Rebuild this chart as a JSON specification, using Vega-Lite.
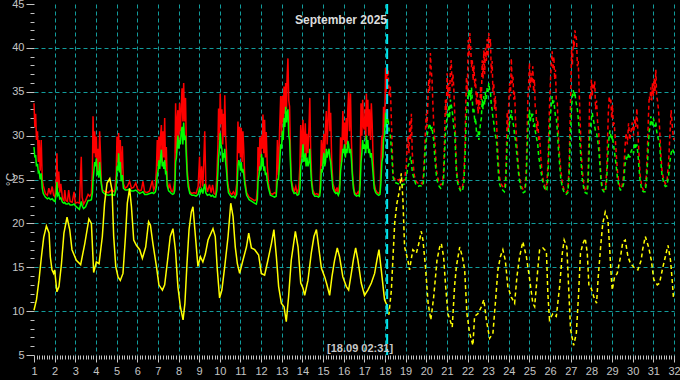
{
  "$schema": "https://vega.github.io/schema/vega-lite/v6.json",
  "width": 640,
  "height": 351,
  "autosize": {"type": "none"},
  "padding": {"left": 34, "top": 4, "right": 6, "bottom": 25},
  "background": "#000000",
  "config": {
    "view": {"stroke": null},
    "axis": {"labelFont": "Liberation Sans", "titleFont": "Liberation Sans"}
  },
  "title": {"text": "September 2025", "color": "#dcdcdc", "font": "Liberation Sans", "fontSize": 12, "fontWeight": "bold", "anchor": "middle", "frame": "group", "offset": -19, "dx": -13, "dy": 19, "baseline": "alphabetic"},
  "datasets": {
    "rg": [
      {"t":1.00,"r":33.7,"g":28.7},{"t":1.04,"r":31.0,"g":27.5},{"t":1.08,"r":32.5,"g":27.8},{"t":1.12,"r":29.5,"g":26.5},{"t":1.17,"r":30.5,"g":26.8},{"t":1.21,"r":27.0,"g":25.8},{"t":1.25,"r":29.5,"g":25.9},{"t":1.30,"r":26.0,"g":25.0},{"t":1.35,"r":29.5,"g":25.7},{"t":1.40,"r":25.0,"g":24.0},{"t":1.45,"r":24.3,"g":23.4},{"t":1.55,"r":23.4,"g":23.0},{"t":1.65,"r":23.2,"g":22.8},{"t":1.72,"r":24.0,"g":22.9},{"t":1.80,"r":23.3,"g":22.7},{"t":1.88,"r":24.2,"g":22.8},{"t":1.95,"r":23.2,"g":22.6},{"t":2.02,"r":23.0,"g":22.5},
      {"t":2.08,"r":25.0,"g":23.5},{"t":2.11,"r":28.0,"g":24.7},{"t":2.15,"r":24.0,"g":23.2},{"t":2.20,"r":25.9,"g":23.4},{"t":2.25,"r":23.5,"g":22.8},{"t":2.30,"r":24.5,"g":22.9},{"t":2.38,"r":22.8,"g":22.4},{"t":2.45,"r":22.6,"g":22.3},{"t":2.49,"r":23.8,"g":22.4},{"t":2.55,"r":22.6,"g":22.2},{"t":2.62,"r":22.5,"g":22.2},{"t":2.68,"r":23.8,"g":22.3},{"t":2.75,"r":22.5,"g":22.1},{"t":2.85,"r":22.4,"g":22.1},{"t":2.94,"r":23.6,"g":22.2},{"t":3.00,"r":22.3,"g":22.0},
      {"t":3.10,"r":22.4,"g":21.8},{"t":3.20,"r":22.3,"g":21.6},{"t":3.29,"r":27.6,"g":22.5},{"t":3.33,"r":23.0,"g":22.0},{"t":3.40,"r":22.2,"g":21.7},{"t":3.50,"r":22.6,"g":21.9},{"t":3.62,"r":23.3,"g":22.6},{"t":3.70,"r":23.1,"g":22.6},{"t":3.78,"r":23.4,"g":22.7},{"t":3.83,"r":26.0,"g":23.5},{"t":3.86,"r":32.2,"g":25.0},{"t":3.90,"r":28.0,"g":26.0},{"t":3.94,"r":30.5,"g":27.0},{"t":3.98,"r":27.5,"g":26.5},
      {"t":4.02,"r":29.9,"g":27.4},{"t":4.06,"r":25.8,"g":25.5},{"t":4.10,"r":28.5,"g":26.0},{"t":4.14,"r":26.0,"g":25.2},{"t":4.18,"r":30.5,"g":27.0},{"t":4.22,"r":28.0,"g":25.5},{"t":4.26,"r":24.8,"g":24.5},{"t":4.32,"r":23.8,"g":23.6},{"t":4.45,"r":23.6,"g":23.3},{"t":4.60,"r":23.5,"g":23.2},{"t":4.75,"r":23.8,"g":23.3},{"t":4.90,"r":23.6,"g":23.2},{"t":4.98,"r":25.5,"g":24.0},
      {"t":5.02,"r":29.9,"g":26.5},{"t":5.06,"r":27.0,"g":26.0},{"t":5.10,"r":30.3,"g":28.0},{"t":5.14,"r":26.5,"g":25.8},{"t":5.18,"r":29.5,"g":27.0},{"t":5.22,"r":25.5,"g":24.8},{"t":5.28,"r":28.8,"g":25.5},{"t":5.33,"r":24.5,"g":24.0},{"t":5.42,"r":24.0,"g":23.8},{"t":5.52,"r":24.2,"g":23.8},{"t":5.63,"r":24.8,"g":23.9},{"t":5.72,"r":24.0,"g":23.7},{"t":5.82,"r":24.1,"g":23.7},{"t":5.93,"r":24.6,"g":23.8},{"t":6.02,"r":23.9,"g":23.6},
      {"t":6.12,"r":23.7,"g":23.4},{"t":6.20,"r":23.8,"g":23.5},{"t":6.28,"r":24.8,"g":23.6},{"t":6.36,"r":23.6,"g":23.3},{"t":6.48,"r":23.5,"g":23.3},{"t":6.60,"r":23.7,"g":23.4},{"t":6.73,"r":24.9,"g":23.5},{"t":6.80,"r":23.8,"g":23.4},{"t":6.88,"r":24.3,"g":23.6},{"t":6.93,"r":26.2,"g":24.2},{"t":6.97,"r":29.5,"g":25.5},
      {"t":7.01,"r":26.5,"g":26.0},{"t":7.05,"r":29.9,"g":27.2},{"t":7.09,"r":27.0,"g":26.2},{"t":7.13,"r":30.0,"g":27.5},{"t":7.17,"r":31.2,"g":28.4},{"t":7.21,"r":26.9,"g":26.5},{"t":7.25,"r":30.5,"g":27.0},{"t":7.29,"r":27.5,"g":26.2},{"t":7.33,"r":32.0,"g":27.2},{"t":7.37,"r":26.5,"g":25.8},{"t":7.41,"r":28.7,"g":26.0},{"t":7.45,"r":24.9,"g":24.3},{"t":7.52,"r":24.0,"g":23.7},{"t":7.58,"r":24.4,"g":23.6},{"t":7.65,"r":23.7,"g":23.4},{"t":7.72,"r":23.6,"g":23.3},{"t":7.78,"r":24.2,"g":23.4},{"t":7.82,"r":25.0,"g":23.8},{"t":7.86,"r":33.7,"g":27.0},{"t":7.90,"r":28.0,"g":27.5},{"t":7.94,"r":32.0,"g":29.0},{"t":7.97,"r":32.9,"g":30.0},
      {"t":8.01,"r":29.0,"g":28.5},{"t":8.05,"r":33.7,"g":29.5},{"t":8.09,"r":30.5,"g":29.0},{"t":8.13,"r":33.0,"g":30.5},{"t":8.17,"r":35.4,"g":31.0},{"t":8.21,"r":31.6,"g":29.0},{"t":8.25,"r":36.0,"g":31.5},{"t":8.29,"r":31.6,"g":29.5},{"t":8.34,"r":34.3,"g":30.0},{"t":8.38,"r":28.7,"g":27.5},{"t":8.42,"r":26.2,"g":25.5},{"t":8.47,"r":24.8,"g":24.2},{"t":8.55,"r":23.6,"g":23.4},{"t":8.65,"r":23.4,"g":23.2},{"t":8.75,"r":23.5,"g":23.2},{"t":8.85,"r":23.4,"g":23.1},{"t":8.95,"r":24.2,"g":23.3},
      {"t":9.02,"r":27.6,"g":24.0},{"t":9.06,"r":24.0,"g":23.5},{"t":9.12,"r":26.5,"g":23.9},{"t":9.18,"r":24.2,"g":23.4},{"t":9.22,"r":26.8,"g":24.0},{"t":9.27,"r":30.5,"g":24.5},{"t":9.32,"r":24.5,"g":23.5},{"t":9.40,"r":23.6,"g":23.2},{"t":9.50,"r":24.4,"g":23.3},{"t":9.58,"r":23.5,"g":23.1},{"t":9.65,"r":24.4,"g":23.2},{"t":9.72,"r":23.4,"g":23.0},{"t":9.80,"r":23.3,"g":23.0},{"t":9.86,"r":25.5,"g":23.8},{"t":9.91,"r":29.0,"g":26.0},{"t":9.94,"r":33.1,"g":27.5},{"t":9.98,"r":29.5,"g":28.5},
      {"t":10.02,"r":34.8,"g":30.3},{"t":10.06,"r":31.3,"g":29.0},{"t":10.10,"r":33.0,"g":28.5},{"t":10.14,"r":29.0,"g":27.0},{"t":10.18,"r":32.5,"g":28.0},{"t":10.21,"r":30.0,"g":27.5},{"t":10.24,"r":34.6,"g":28.5},{"t":10.28,"r":30.0,"g":27.0},{"t":10.32,"r":28.4,"g":26.1},{"t":10.37,"r":25.0,"g":24.5},{"t":10.42,"r":24.1,"g":23.5},{"t":10.50,"r":23.5,"g":23.2},{"t":10.58,"r":23.3,"g":23.0},{"t":10.66,"r":23.6,"g":23.1},{"t":10.74,"r":23.2,"g":22.9},{"t":10.82,"r":24.5,"g":23.3},{"t":10.88,"r":31.6,"g":26.5},{"t":10.92,"r":28.0,"g":27.2},{"t":10.96,"r":31.0,"g":26.8},
      {"t":11.00,"r":27.5,"g":26.0},{"t":11.04,"r":30.9,"g":27.0},{"t":11.08,"r":27.0,"g":25.8},{"t":11.12,"r":30.5,"g":26.2},{"t":11.16,"r":28.4,"g":25.6},{"t":11.21,"r":25.0,"g":24.5},{"t":11.30,"r":23.5,"g":23.2},{"t":11.42,"r":23.0,"g":22.7},{"t":11.55,"r":22.8,"g":22.5},{"t":11.68,"r":22.6,"g":22.3},{"t":11.77,"r":22.7,"g":22.2},{"t":11.82,"r":24.0,"g":22.8},{"t":11.85,"r":28.7,"g":24.8},{"t":11.90,"r":26.0,"g":25.5},{"t":11.94,"r":29.8,"g":26.5},{"t":11.98,"r":27.5,"g":26.0},
      {"t":12.02,"r":30.0,"g":27.9},{"t":12.06,"r":28.5,"g":26.5},{"t":12.09,"r":32.4,"g":27.5},{"t":12.13,"r":28.0,"g":26.0},{"t":12.17,"r":31.8,"g":26.5},{"t":12.21,"r":27.5,"g":25.5},{"t":12.25,"r":30.4,"g":25.8},{"t":12.30,"r":26.5,"g":24.8},{"t":12.36,"r":24.5,"g":24.0},{"t":12.45,"r":23.4,"g":23.2},{"t":12.55,"r":23.3,"g":23.1},{"t":12.65,"r":23.5,"g":23.0},{"t":12.73,"r":23.4,"g":23.1},{"t":12.79,"r":29.5,"g":25.0},{"t":12.84,"r":25.5,"g":25.0},{"t":12.90,"r":31.0,"g":27.0},{"t":12.95,"r":34.5,"g":29.0},{"t":12.99,"r":30.0,"g":28.5},
      {"t":13.03,"r":34.5,"g":30.5},{"t":13.07,"r":31.5,"g":29.5},{"t":13.11,"r":35.6,"g":32.0},{"t":13.15,"r":32.5,"g":31.0},{"t":13.19,"r":36.0,"g":33.3},{"t":13.23,"r":33.0,"g":31.5},{"t":13.26,"r":36.7,"g":32.5},{"t":13.30,"r":38.8,"g":33.0},{"t":13.34,"r":34.0,"g":30.0},{"t":13.38,"r":33.3,"g":29.5},{"t":13.42,"r":28.5,"g":27.0},{"t":13.46,"r":25.0,"g":24.8},{"t":13.52,"r":24.3,"g":23.8},{"t":13.60,"r":23.6,"g":23.4},{"t":13.68,"r":24.2,"g":23.5},{"t":13.75,"r":23.4,"g":23.2},{"t":13.82,"r":24.0,"g":23.3},{"t":13.88,"r":26.5,"g":24.0},{"t":13.92,"r":31.2,"g":26.5},{"t":13.96,"r":27.5,"g":27.0},
      {"t":14.00,"r":30.5,"g":28.0},{"t":14.03,"r":31.8,"g":29.0},{"t":14.07,"r":28.0,"g":27.0},{"t":14.11,"r":30.0,"g":27.5},{"t":14.14,"r":31.4,"g":28.0},{"t":14.18,"r":27.5,"g":26.5},{"t":14.22,"r":30.2,"g":27.5},{"t":14.27,"r":28.0,"g":26.5},{"t":14.32,"r":31.0,"g":27.0},{"t":14.36,"r":34.3,"g":28.5},{"t":14.40,"r":28.4,"g":26.2},{"t":14.45,"r":25.0,"g":24.5},{"t":14.51,"r":23.8,"g":23.4},{"t":14.60,"r":23.3,"g":23.1},{"t":14.70,"r":23.4,"g":23.1},{"t":14.78,"r":23.2,"g":23.0},{"t":14.84,"r":23.5,"g":23.1},{"t":14.88,"r":26.0,"g":24.0},{"t":14.92,"r":29.5,"g":26.2},{"t":14.96,"r":26.5,"g":25.8},
      {"t":15.00,"r":29.0,"g":27.0},{"t":15.04,"r":30.2,"g":28.0},{"t":15.08,"r":27.5,"g":26.5},{"t":15.12,"r":31.0,"g":27.0},{"t":15.16,"r":32.8,"g":28.5},{"t":15.20,"r":29.0,"g":27.5},{"t":15.24,"r":31.5,"g":28.0},{"t":15.29,"r":34.8,"g":28.5},{"t":15.33,"r":30.5,"g":27.5},{"t":15.37,"r":32.6,"g":27.0},{"t":15.42,"r":27.0,"g":25.5},{"t":15.48,"r":24.5,"g":24.0},{"t":15.55,"r":24.0,"g":23.6},{"t":15.62,"r":23.6,"g":23.4},{"t":15.68,"r":24.1,"g":23.5},{"t":15.74,"r":23.4,"g":23.2},{"t":15.80,"r":24.5,"g":23.6},{"t":15.85,"r":29.8,"g":26.0},{"t":15.90,"r":27.0,"g":27.0},{"t":15.96,"r":32.8,"g":28.5},
      {"t":16.00,"r":29.5,"g":28.0},{"t":16.04,"r":31.5,"g":29.0},{"t":16.08,"r":28.5,"g":27.5},{"t":16.12,"r":32.0,"g":28.5},{"t":16.16,"r":29.0,"g":28.0},{"t":16.20,"r":33.0,"g":29.4},{"t":16.24,"r":35.0,"g":29.0},{"t":16.28,"r":30.5,"g":28.0},{"t":16.33,"r":34.8,"g":28.5},{"t":16.37,"r":29.8,"g":27.5},{"t":16.42,"r":26.0,"g":25.5},{"t":16.47,"r":24.5,"g":24.0},{"t":16.53,"r":23.5,"g":23.3},{"t":16.62,"r":23.3,"g":23.1},{"t":16.70,"r":23.6,"g":23.2},{"t":16.76,"r":23.3,"g":23.1},{"t":16.80,"r":27.0,"g":24.5},{"t":16.84,"r":33.7,"g":27.0},{"t":16.88,"r":30.0,"g":28.0},{"t":16.92,"r":34.1,"g":29.5},{"t":16.96,"r":31.0,"g":28.5},
      {"t":17.00,"r":30.7,"g":29.0},{"t":17.04,"r":33.0,"g":28.5},{"t":17.07,"r":29.5,"g":28.0},{"t":17.10,"r":34.8,"g":30.0},{"t":17.14,"r":31.0,"g":28.5},{"t":17.17,"r":34.1,"g":29.5},{"t":17.21,"r":30.0,"g":28.0},{"t":17.25,"r":33.0,"g":28.5},{"t":17.30,"r":29.5,"g":27.5},{"t":17.34,"r":33.7,"g":28.0},{"t":17.38,"r":31.4,"g":27.0},{"t":17.43,"r":27.0,"g":25.5},{"t":17.48,"r":24.5,"g":24.0},{"t":17.55,"r":23.8,"g":23.5},{"t":17.63,"r":23.5,"g":23.3},{"t":17.70,"r":23.4,"g":23.2},{"t":17.76,"r":23.6,"g":23.3},{"t":17.80,"r":26.5,"g":24.5},{"t":17.85,"r":30.0,"g":27.0},{"t":17.89,"r":27.5,"g":27.5},{"t":17.93,"r":33.3,"g":29.5},{"t":17.97,"r":31.0,"g":30.0},
      {"t":18.01,"r":34.5,"g":31.5},{"t":18.03,"r":37.7,"g":32.6},{"t":18.06,"r":35.0,"g":31.0},{"t":18.08,"r":37.0,"g":32.0},{"t":18.105,"r":36.0,"g":31.5},
      {"t":18.15,"r":37.5,"g":32.0},{"t":18.20,"r":34.5,"g":30.5},{"t":18.26,"r":35.6,"g":30.0},{"t":18.31,"r":31.8,"g":28.5},{"t":18.35,"r":28.7,"g":27.0},{"t":18.39,"r":25.7,"g":25.3},{"t":18.45,"r":25.0,"g":24.7},{"t":18.55,"r":25.2,"g":24.6},{"t":18.65,"r":24.9,"g":24.5},{"t":18.75,"r":25.1,"g":24.6},{"t":18.85,"r":24.8,"g":24.4},{"t":18.95,"r":25.0,"g":24.5},
      {"t":19.03,"r":26.5,"g":25.2},{"t":19.08,"r":29.0,"g":26.0},{"t":19.11,"r":29.9,"g":26.5},{"t":19.16,"r":28.0,"g":26.8},{"t":19.20,"r":31.8,"g":27.2},{"t":19.24,"r":29.5,"g":27.6},{"t":19.28,"r":32.5,"g":27.0},{"t":19.32,"r":28.1,"g":26.0},{"t":19.36,"r":27.0,"g":25.5},{"t":19.42,"r":25.5,"g":25.0},{"t":19.50,"r":24.8,"g":24.4},{"t":19.60,"r":24.6,"g":24.2},{"t":19.70,"r":24.7,"g":24.3},{"t":19.80,"r":24.5,"g":24.2},{"t":19.86,"r":25.5,"g":24.6},{"t":19.92,"r":28.0,"g":27.0},{"t":19.96,"r":30.5,"g":29.0},
      {"t":20.00,"r":32.5,"g":29.5},{"t":20.04,"r":31.0,"g":30.0},{"t":20.08,"r":34.1,"g":30.5},{"t":20.12,"r":36.4,"g":31.0},{"t":20.16,"r":35.0,"g":31.4},{"t":20.20,"r":39.4,"g":31.0},{"t":20.24,"r":37.5,"g":30.5},{"t":20.28,"r":36.4,"g":31.0},{"t":20.32,"r":33.7,"g":30.0},{"t":20.36,"r":31.4,"g":29.5},{"t":20.40,"r":30.0,"g":28.0},{"t":20.45,"r":28.0,"g":26.5},{"t":20.50,"r":26.0,"g":25.2},{"t":20.56,"r":25.2,"g":24.6},{"t":20.63,"r":24.6,"g":24.2},{"t":20.70,"r":24.4,"g":24.0},{"t":20.78,"r":24.5,"g":24.2},{"t":20.84,"r":26.0,"g":25.0},{"t":20.89,"r":30.0,"g":28.0},{"t":20.93,"r":34.1,"g":30.3},{"t":20.97,"r":32.5,"g":31.0},
      {"t":21.01,"r":37.1,"g":32.5},{"t":21.05,"r":34.5,"g":32.0},{"t":21.09,"r":36.0,"g":33.5},{"t":21.13,"r":34.1,"g":32.0},{"t":21.17,"r":37.8,"g":34.1},{"t":21.21,"r":38.6,"g":33.5},{"t":21.25,"r":35.6,"g":33.0},{"t":21.29,"r":37.0,"g":32.0},{"t":21.33,"r":35.6,"g":31.0},{"t":21.38,"r":32.5,"g":30.3},{"t":21.42,"r":29.5,"g":28.0},{"t":21.46,"r":26.5,"g":25.8},{"t":21.52,"r":25.0,"g":24.6},{"t":21.60,"r":24.3,"g":24.0},{"t":21.68,"r":23.8,"g":23.6},{"t":21.76,"r":24.2,"g":23.8},{"t":21.82,"r":25.5,"g":24.5},{"t":21.87,"r":28.5,"g":27.0},{"t":21.91,"r":33.0,"g":30.0},{"t":21.95,"r":36.7,"g":32.5},{"t":21.99,"r":35.0,"g":33.5},
      {"t":22.03,"r":40.9,"g":35.0},{"t":22.07,"r":39.0,"g":34.5},{"t":22.11,"r":41.7,"g":35.2},{"t":22.15,"r":40.2,"g":34.0},{"t":22.19,"r":37.8,"g":35.5},{"t":22.23,"r":38.6,"g":34.0},{"t":22.27,"r":36.3,"g":32.6},{"t":22.31,"r":38.0,"g":33.0},{"t":22.35,"r":35.6,"g":31.5},{"t":22.39,"r":36.5,"g":32.0},{"t":22.43,"r":33.5,"g":30.5},{"t":22.47,"r":35.0,"g":29.9},{"t":22.51,"r":32.5,"g":30.5},{"t":22.55,"r":34.1,"g":29.5},{"t":22.59,"r":33.0,"g":30.5},{"t":22.63,"r":35.6,"g":31.5},{"t":22.67,"r":34.0,"g":32.0},{"t":22.71,"r":38.6,"g":34.1},{"t":22.75,"r":36.5,"g":33.0},{"t":22.79,"r":39.7,"g":34.5},{"t":22.83,"r":37.0,"g":33.5},{"t":22.87,"r":40.0,"g":35.0},{"t":22.91,"r":38.5,"g":34.0},{"t":22.95,"r":41.0,"g":35.5},{"t":22.99,"r":39.0,"g":35.0},
      {"t":23.03,"r":41.7,"g":36.0},{"t":23.07,"r":40.0,"g":35.2},{"t":23.11,"r":41.0,"g":35.0},{"t":23.15,"r":37.1,"g":33.5},{"t":23.19,"r":38.5,"g":33.0},{"t":23.23,"r":35.0,"g":32.0},{"t":23.27,"r":36.0,"g":31.5},{"t":23.31,"r":33.0,"g":30.5},{"t":23.35,"r":34.5,"g":30.0},{"t":23.40,"r":31.8,"g":29.5},{"t":23.45,"r":29.0,"g":27.5},{"t":23.50,"r":26.8,"g":25.5},{"t":23.55,"r":25.2,"g":24.5},{"t":23.62,"r":24.5,"g":24.0},{"t":23.70,"r":24.2,"g":23.8},{"t":23.78,"r":24.0,"g":23.6},{"t":23.84,"r":25.0,"g":24.2},{"t":23.88,"r":28.0,"g":26.5},{"t":23.92,"r":32.7,"g":29.2},{"t":23.96,"r":30.5,"g":30.0},
      {"t":24.00,"r":34.1,"g":31.0},{"t":24.04,"r":36.0,"g":31.5},{"t":24.08,"r":34.5,"g":32.0},{"t":24.12,"r":38.8,"g":32.9},{"t":24.16,"r":36.0,"g":32.0},{"t":24.20,"r":36.7,"g":31.5},{"t":24.24,"r":34.1,"g":31.0},{"t":24.28,"r":35.0,"g":30.0},{"t":24.32,"r":32.0,"g":29.5},{"t":24.36,"r":30.0,"g":28.5},{"t":24.42,"r":28.0,"g":27.0},{"t":24.48,"r":26.0,"g":25.5},{"t":24.55,"r":24.8,"g":24.3},{"t":24.62,"r":24.2,"g":23.8},{"t":24.70,"r":23.8,"g":23.5},{"t":24.78,"r":24.0,"g":23.6},{"t":24.84,"r":26.0,"g":25.0},{"t":24.88,"r":30.0,"g":28.0},{"t":24.92,"r":34.0,"g":30.5},{"t":24.96,"r":36.0,"g":32.0},
      {"t":25.00,"r":38.3,"g":32.9},{"t":25.04,"r":35.5,"g":31.5},{"t":25.08,"r":37.1,"g":32.5},{"t":25.12,"r":36.0,"g":32.0},{"t":25.16,"r":37.9,"g":32.5},{"t":25.20,"r":35.0,"g":31.0},{"t":25.24,"r":36.4,"g":31.5},{"t":25.28,"r":33.0,"g":30.5},{"t":25.32,"r":32.9,"g":30.0},{"t":25.36,"r":30.5,"g":29.5},{"t":25.40,"r":31.8,"g":29.0},{"t":25.45,"r":29.5,"g":27.5},{"t":25.49,"r":29.9,"g":27.0},{"t":25.55,"r":27.5,"g":26.0},{"t":25.62,"r":25.5,"g":25.0},{"t":25.70,"r":24.6,"g":24.2},{"t":25.78,"r":24.0,"g":23.7},{"t":25.84,"r":24.5,"g":23.8},{"t":25.90,"r":27.0,"g":25.5},{"t":25.94,"r":31.0,"g":28.5},{"t":25.98,"r":34.0,"g":31.0},
      {"t":26.02,"r":36.5,"g":32.5},{"t":26.06,"r":38.3,"g":33.5},{"t":26.10,"r":39.6,"g":34.5},{"t":26.14,"r":37.5,"g":33.5},{"t":26.18,"r":39.0,"g":34.0},{"t":26.22,"r":36.4,"g":33.0},{"t":26.26,"r":37.5,"g":32.2},{"t":26.30,"r":34.0,"g":32.0},{"t":26.35,"r":33.7,"g":30.5},{"t":26.40,"r":30.0,"g":28.5},{"t":26.45,"r":28.0,"g":27.0},{"t":26.52,"r":26.0,"g":25.0},{"t":26.60,"r":24.5,"g":24.0},{"t":26.70,"r":23.6,"g":23.4},{"t":26.78,"r":23.5,"g":23.3},{"t":26.86,"r":23.8,"g":23.5},{"t":26.92,"r":26.5,"g":25.5},{"t":26.96,"r":31.0,"g":28.5},
      {"t":27.00,"r":35.0,"g":31.0},{"t":27.04,"r":39.8,"g":33.3},{"t":27.08,"r":38.0,"g":34.5},{"t":27.12,"r":40.9,"g":35.2},{"t":27.16,"r":40.0,"g":34.5},{"t":27.20,"r":42.0,"g":35.0},{"t":27.24,"r":41.4,"g":34.0},{"t":27.28,"r":40.9,"g":33.5},{"t":27.32,"r":37.9,"g":33.0},{"t":27.36,"r":38.5,"g":32.0},{"t":27.40,"r":35.6,"g":31.0},{"t":27.45,"r":32.0,"g":29.0},{"t":27.50,"r":28.5,"g":27.0},{"t":27.56,"r":26.0,"g":25.0},{"t":27.63,"r":24.5,"g":24.0},{"t":27.70,"r":23.8,"g":23.5},{"t":27.78,"r":23.7,"g":23.4},{"t":27.83,"r":25.0,"g":24.2},{"t":27.88,"r":30.0,"g":27.5},{"t":27.92,"r":34.8,"g":30.0},{"t":27.96,"r":34.1,"g":31.0},
      {"t":28.00,"r":36.4,"g":32.0},{"t":28.04,"r":34.5,"g":32.6},{"t":28.08,"r":36.0,"g":32.0},{"t":28.12,"r":35.2,"g":31.5},{"t":28.16,"r":36.2,"g":31.0},{"t":28.20,"r":33.0,"g":30.5},{"t":28.25,"r":34.0,"g":30.3},{"t":28.30,"r":31.5,"g":29.5},{"t":28.35,"r":30.6,"g":28.5},{"t":28.40,"r":28.0,"g":27.0},{"t":28.46,"r":25.5,"g":25.0},{"t":28.52,"r":24.3,"g":23.9},{"t":28.60,"r":23.8,"g":23.6},{"t":28.68,"r":23.9,"g":23.6},{"t":28.74,"r":26.0,"g":25.0},{"t":28.78,"r":29.5,"g":27.0},{"t":28.82,"r":32.6,"g":28.7},{"t":28.86,"r":34.5,"g":30.0},{"t":28.90,"r":33.8,"g":30.6},{"t":28.94,"r":34.1,"g":30.0},{"t":28.98,"r":32.0,"g":29.5},
      {"t":29.02,"r":33.5,"g":30.0},{"t":29.06,"r":31.0,"g":29.0},{"t":29.10,"r":31.5,"g":28.5},{"t":29.15,"r":29.9,"g":27.5},{"t":29.20,"r":28.0,"g":26.5},{"t":29.26,"r":26.0,"g":25.2},{"t":29.33,"r":24.6,"g":24.2},{"t":29.40,"r":24.0,"g":23.8},{"t":29.48,"r":24.2,"g":23.9},{"t":29.56,"r":25.5,"g":24.5},{"t":29.62,"r":28.5,"g":26.5},{"t":29.68,"r":30.3,"g":27.5},{"t":29.74,"r":29.0,"g":27.2},{"t":29.80,"r":31.4,"g":28.0},{"t":29.86,"r":29.5,"g":27.5},{"t":29.92,"r":30.5,"g":28.2},{"t":29.98,"r":31.5,"g":28.5},
      {"t":30.04,"r":30.0,"g":28.0},{"t":30.10,"r":32.0,"g":29.2},{"t":30.15,"r":31.0,"g":28.5},{"t":30.20,"r":33.1,"g":29.0},{"t":30.25,"r":30.5,"g":28.0},{"t":30.30,"r":28.0,"g":26.5},{"t":30.36,"r":25.5,"g":24.8},{"t":30.44,"r":24.2,"g":23.8},{"t":30.52,"r":23.8,"g":23.6},{"t":30.60,"r":24.0,"g":23.6},{"t":30.66,"r":25.5,"g":24.5},{"t":30.72,"r":29.0,"g":27.0},{"t":30.76,"r":32.0,"g":29.0},{"t":30.80,"r":34.5,"g":30.5},{"t":30.84,"r":34.1,"g":31.0},{"t":30.88,"r":35.5,"g":32.2},{"t":30.92,"r":34.0,"g":31.5},{"t":30.96,"r":36.0,"g":31.0},
      {"t":31.00,"r":34.5,"g":32.0},{"t":31.04,"r":36.5,"g":31.5},{"t":31.08,"r":35.0,"g":31.0},{"t":31.12,"r":37.5,"g":31.5},{"t":31.16,"r":34.5,"g":30.5},{"t":31.20,"r":34.0,"g":30.0},{"t":31.25,"r":32.9,"g":29.5},{"t":31.30,"r":31.0,"g":29.1},{"t":31.36,"r":28.0,"g":27.0},{"t":31.42,"r":26.0,"g":25.5},{"t":31.50,"r":25.0,"g":24.6},{"t":31.58,"r":24.5,"g":24.2},{"t":31.66,"r":24.8,"g":24.3},{"t":31.74,"r":27.0,"g":25.5},{"t":31.80,"r":30.0,"g":27.0},{"t":31.86,"r":32.9,"g":28.0},{"t":31.92,"r":31.0,"g":28.5},{"t":31.97,"r":29.9,"g":28.2},{"t":32.00,"r":29.5,"g":28.0}
    ],
    "yel": [
      {"t":1.00,"y":10.1},{"t":1.12,"y":11.3},{"t":1.24,"y":13.5},{"t":1.36,"y":16.2},{"t":1.47,"y":18.4},{"t":1.60,"y":19.7},{"t":1.73,"y":18.9},{"t":1.79,"y":16.2},{"t":1.87,"y":14.7},{"t":1.95,"y":14.3},{"t":2.00,"y":14.7},{"t":2.11,"y":12.2},{"t":2.21,"y":12.8},{"t":2.33,"y":15.4},{"t":2.45,"y":18.9},{"t":2.60,"y":20.7},{"t":2.73,"y":19.3},{"t":2.84,"y":17.0},{"t":3.05,"y":15.8},{"t":3.26,"y":15.3},{"t":3.46,"y":17.7},{"t":3.66,"y":20.5},{"t":3.78,"y":20.0},{"t":3.89,"y":14.4},{"t":4.02,"y":15.6},{"t":4.15,"y":15.4},{"t":4.31,"y":18.5},{"t":4.42,"y":22.3},{"t":4.54,"y":24.6},{"t":4.67,"y":25.1},{"t":4.78,"y":23.8},{"t":4.86,"y":18.5},{"t":4.96,"y":15.1},{"t":5.07,"y":13.9},{"t":5.18,"y":13.5},{"t":5.31,"y":14.3},{"t":5.43,"y":18.5},{"t":5.52,"y":22.3},{"t":5.63,"y":24.0},{"t":5.72,"y":21.9},{"t":5.83,"y":18.1},{"t":5.96,"y":17.5},{"t":6.12,"y":17.0},{"t":6.25,"y":16.0},{"t":6.41,"y":17.3},{"t":6.55,"y":20.2},{"t":6.64,"y":19.8},{"t":6.76,"y":17.7},{"t":6.93,"y":15.1},{"t":7.05,"y":13.0},{"t":7.22,"y":12.4},{"t":7.33,"y":13.0},{"t":7.49,"y":16.2},{"t":7.60,"y":18.5},{"t":7.73,"y":19.4},{"t":7.85,"y":17.0},{"t":7.97,"y":12.8},{"t":8.09,"y":10.5},{"t":8.22,"y":9.0},{"t":8.31,"y":10.9},{"t":8.41,"y":15.4},{"t":8.51,"y":19.3},{"t":8.62,"y":21.3},{"t":8.70,"y":21.9},{"t":8.82,"y":18.5},{"t":8.94,"y":15.1},{"t":9.06,"y":16.2},{"t":9.18,"y":15.6},{"t":9.30,"y":16.5},{"t":9.43,"y":18.1},{"t":9.67,"y":19.4},{"t":9.78,"y":18.5},{"t":9.88,"y":14.7},{"t":9.99,"y":11.5},{"t":10.10,"y":12.4},{"t":10.24,"y":15.1},{"t":10.40,"y":18.5},{"t":10.53,"y":22.3},{"t":10.64,"y":20.8},{"t":10.75,"y":17.3},{"t":10.85,"y":15.4},{"t":10.96,"y":14.3},{"t":11.12,"y":15.8},{"t":11.29,"y":17.3},{"t":11.40,"y":18.9},{"t":11.53,"y":17.2},{"t":11.69,"y":17.0},{"t":11.88,"y":16.4},{"t":12.01,"y":14.3},{"t":12.17,"y":14.1},{"t":12.33,"y":15.8},{"t":12.50,"y":17.7},{"t":12.62,"y":19.3},{"t":12.74,"y":16.2},{"t":12.85,"y":12.8},{"t":12.98,"y":10.9},{"t":13.11,"y":10.5},{"t":13.22,"y":8.8},{"t":13.33,"y":11.6},{"t":13.46,"y":15.8},{"t":13.66,"y":19.1},{"t":13.79,"y":17.3},{"t":13.92,"y":13.2},{"t":14.03,"y":12.6},{"t":14.11,"y":11.8},{"t":14.27,"y":13.5},{"t":14.43,"y":16.6},{"t":14.56,"y":18.5},{"t":14.68,"y":19.3},{"t":14.79,"y":17.3},{"t":14.92,"y":14.9},{"t":15.08,"y":13.9},{"t":15.19,"y":13.0},{"t":15.32,"y":11.8},{"t":15.43,"y":13.9},{"t":15.56,"y":15.8},{"t":15.69,"y":17.2},{"t":15.80,"y":16.2},{"t":15.96,"y":13.9},{"t":16.13,"y":12.8},{"t":16.24,"y":12.4},{"t":16.37,"y":14.3},{"t":16.48,"y":16.0},{"t":16.58,"y":17.2},{"t":16.69,"y":15.8},{"t":16.85,"y":13.2},{"t":17.01,"y":11.8},{"t":17.17,"y":12.4},{"t":17.34,"y":13.2},{"t":17.50,"y":14.3},{"t":17.61,"y":15.8},{"t":17.71,"y":17.0},{"t":17.82,"y":14.7},{"t":17.98,"y":11.3},{"t":18.09,"y":10.7},{"t":18.105,"y":10.5},
      {"t":18.19,"y":9.6},{"t":18.31,"y":12.4},{"t":18.39,"y":16.2},{"t":18.47,"y":20.0},{"t":18.58,"y":22.3},{"t":18.71,"y":23.8},{"t":18.79,"y":25.7},{"t":18.87,"y":22.7},{"t":18.95,"y":17.3},{"t":19.11,"y":15.8},{"t":19.19,"y":14.7},{"t":19.35,"y":17.0},{"t":19.52,"y":16.6},{"t":19.64,"y":17.7},{"t":19.76,"y":19.1},{"t":19.84,"y":18.1},{"t":19.96,"y":15.1},{"t":20.09,"y":10.9},{"t":20.22,"y":9.0},{"t":20.36,"y":11.6},{"t":20.52,"y":15.8},{"t":20.65,"y":17.3},{"t":20.73,"y":17.7},{"t":20.84,"y":16.2},{"t":20.94,"y":12.8},{"t":21.05,"y":9.7},{"t":21.26,"y":8.2},{"t":21.37,"y":12.8},{"t":21.46,"y":15.1},{"t":21.62,"y":17.3},{"t":21.75,"y":16.2},{"t":21.86,"y":14.7},{"t":21.97,"y":9.7},{"t":22.10,"y":7.5},{"t":22.26,"y":6.1},{"t":22.34,"y":9.4},{"t":22.50,"y":9.7},{"t":22.67,"y":10.5},{"t":22.79,"y":11.3},{"t":22.91,"y":9.0},{"t":23.07,"y":6.9},{"t":23.23,"y":7.5},{"t":23.36,"y":11.3},{"t":23.47,"y":14.7},{"t":23.59,"y":16.2},{"t":23.71,"y":17.0},{"t":23.83,"y":15.8},{"t":23.95,"y":12.8},{"t":24.12,"y":11.6},{"t":24.28,"y":10.9},{"t":24.39,"y":13.9},{"t":24.52,"y":16.2},{"t":24.68,"y":17.9},{"t":24.85,"y":16.2},{"t":25.01,"y":13.6},{"t":25.16,"y":10.9},{"t":25.25,"y":10.5},{"t":25.40,"y":14.7},{"t":25.49,"y":17.0},{"t":25.65,"y":17.2},{"t":25.82,"y":16.8},{"t":25.89,"y":12.0},{"t":25.97,"y":9.0},{"t":26.13,"y":9.7},{"t":26.30,"y":9.4},{"t":26.46,"y":12.8},{"t":26.59,"y":16.6},{"t":26.68,"y":18.1},{"t":26.81,"y":17.3},{"t":26.91,"y":12.0},{"t":26.99,"y":7.9},{"t":27.14,"y":6.1},{"t":27.27,"y":7.5},{"t":27.38,"y":12.0},{"t":27.47,"y":16.6},{"t":27.59,"y":17.7},{"t":27.70,"y":18.3},{"t":27.80,"y":16.6},{"t":27.88,"y":12.8},{"t":27.99,"y":12.6},{"t":28.12,"y":11.6},{"t":28.25,"y":10.9},{"t":28.33,"y":13.9},{"t":28.46,"y":17.7},{"t":28.55,"y":20.0},{"t":28.67,"y":21.3},{"t":28.80,"y":20.4},{"t":28.88,"y":17.3},{"t":28.96,"y":13.9},{"t":29.01,"y":12.4},{"t":29.12,"y":13.9},{"t":29.25,"y":14.3},{"t":29.41,"y":16.2},{"t":29.52,"y":17.9},{"t":29.64,"y":18.1},{"t":29.77,"y":16.2},{"t":29.90,"y":15.4},{"t":30.06,"y":15.0},{"t":30.25,"y":14.7},{"t":30.41,"y":15.8},{"t":30.48,"y":17.0},{"t":30.61,"y":18.5},{"t":30.77,"y":17.3},{"t":30.90,"y":15.8},{"t":31.02,"y":13.6},{"t":31.19,"y":13.0},{"t":31.30,"y":13.2},{"t":31.46,"y":15.0},{"t":31.58,"y":16.2},{"t":31.71,"y":17.5},{"t":31.83,"y":15.8},{"t":31.91,"y":13.6},{"t":31.98,"y":11.3}
    ],
    "mark": [{"t":18.105,"v":5,"label":"[18.09 02:31]"}]
  },
  "encoding": {
    "x": {
      "field": "t", "type": "quantitative",
      "scale": {"domain": [1, 32], "nice": false, "zero": false},
      "axis": {
        "title": null, "domain": false, "labelOverlap": false, "labelFlush": false, "labelBound": false,
        "tickCount": 1000,
        "values": [1,1.125,1.25,1.375,1.5,1.625,1.75,1.875,2,2.125,2.25,2.375,2.5,2.625,2.75,2.875,3,3.125,3.25,3.375,3.5,3.625,3.75,3.875,4,4.125,4.25,4.375,4.5,4.625,4.75,4.875,5,5.125,5.25,5.375,5.5,5.625,5.75,5.875,6,6.125,6.25,6.375,6.5,6.625,6.75,6.875,7,7.125,7.25,7.375,7.5,7.625,7.75,7.875,8,8.125,8.25,8.375,8.5,8.625,8.75,8.875,9,9.125,9.25,9.375,9.5,9.625,9.75,9.875,10,10.125,10.25,10.375,10.5,10.625,10.75,10.875,11,11.125,11.25,11.375,11.5,11.625,11.75,11.875,12,12.125,12.25,12.375,12.5,12.625,12.75,12.875,13,13.125,13.25,13.375,13.5,13.625,13.75,13.875,14,14.125,14.25,14.375,14.5,14.625,14.75,14.875,15,15.125,15.25,15.375,15.5,15.625,15.75,15.875,16,16.125,16.25,16.375,16.5,16.625,16.75,16.875,17,17.125,17.25,17.375,17.5,17.625,17.75,17.875,18,18.125,18.25,18.375,18.5,18.625,18.75,18.875,19,19.125,19.25,19.375,19.5,19.625,19.75,19.875,20,20.125,20.25,20.375,20.5,20.625,20.75,20.875,21,21.125,21.25,21.375,21.5,21.625,21.75,21.875,22,22.125,22.25,22.375,22.5,22.625,22.75,22.875,23,23.125,23.25,23.375,23.5,23.625,23.75,23.875,24,24.125,24.25,24.375,24.5,24.625,24.75,24.875,25,25.125,25.25,25.375,25.5,25.625,25.75,25.875,26,26.125,26.25,26.375,26.5,26.625,26.75,26.875,27,27.125,27.25,27.375,27.5,27.625,27.75,27.875,28,28.125,28.25,28.375,28.5,28.625,28.75,28.875,29,29.125,29.25,29.375,29.5,29.625,29.75,29.875,30,30.125,30.25,30.375,30.5,30.625,30.75,30.875,31,31.125,31.25,31.375,31.5,31.625,31.75,31.875,32],
        "labelExpr": "datum.value % 1 === 0 ? format(datum.value, 'd') : ''",
        "labelColor": "#c4c4c4", "labelFontSize": 11, "labelPadding": 3,
        "tickColor": "#c4c4c4",
        "tickSize": {"condition": {"test": "datum.value % 1 === 0", "value": 7}, "value": 4},
        "grid": true, "gridColor": "#129c9c", "gridDash": [4, 3], "gridWidth": 1,
        "gridOpacity": {"condition": {"test": "datum.value % 1 === 0 && datum.value > 1", "value": 1}, "value": 0}
      }
    }
  },
  "layer": [
    {
      "data": {"name": "rg"},
      "transform": [{"filter": "datum.t <= 18.105"}],
      "mark": {"type": "line", "color": "#ff0000", "strokeWidth": 1.5},
      "encoding": {
        "y": {
          "field": "r", "type": "quantitative", "title": "°C",
          "scale": {"domain": [5, 45], "nice": false, "zero": false},
          "axis": {
            "domain": false, "labelOverlap": false, "labelFlush": false, "labelBound": false,
            "tickCount": 1000,
            "values": [5,6,7,8,9,10,11,12,13,14,15,16,17,18,19,20,21,22,23,24,25,26,27,28,29,30,31,32,33,34,35,36,37,38,39,40,41,42,43,44,45],
            "labelExpr": "datum.value % 5 === 0 ? format(datum.value, 'd') : ''",
            "labelColor": "#c4c4c4", "labelFontSize": 11, "labelPadding": 2,
            "tickColor": "#c4c4c4",
            "tickSize": {"condition": {"test": "datum.value % 5 === 0", "value": 8}, "value": 4},
            "grid": true, "gridColor": "#129c9c", "gridDash": [4, 3], "gridWidth": 1,
            "gridOpacity": {"condition": {"test": "datum.value % 5 === 0 && datum.value > 5 && datum.value < 45", "value": 1}, "value": 0},
            "titleColor": "#c4c4c4", "titleFontSize": 12, "titleFontWeight": "normal",
            "titleX": -24, "titleY": 175, "titleAngle": 270, "titleAlign": "center", "titleBaseline": "middle"
          }
        }
      }
    },
    {
      "data": {"name": "rg"},
      "transform": [{"filter": "datum.t <= 18.105"}],
      "mark": {"type": "line", "color": "#00ff00", "strokeWidth": 1.5},
      "encoding": {"y": {"field": "g", "type": "quantitative", "title": "°C"}}
    },
    {
      "data": {"name": "rg"},
      "transform": [{"filter": "datum.t >= 18.105"}],
      "mark": {"type": "line", "color": "#ff0000", "strokeWidth": 1.5, "strokeDash": [4, 3]},
      "encoding": {"y": {"field": "r", "type": "quantitative", "title": "°C"}}
    },
    {
      "data": {"name": "rg"},
      "transform": [{"filter": "datum.t >= 18.105"}],
      "mark": {"type": "line", "color": "#00ff00", "strokeWidth": 1.5, "strokeDash": [4, 3]},
      "encoding": {"y": {"field": "g", "type": "quantitative", "title": "°C"}}
    },
    {
      "data": {"name": "yel"},
      "transform": [{"filter": "datum.t <= 18.105"}],
      "mark": {"type": "line", "color": "#ffff00", "strokeWidth": 1.5},
      "encoding": {"y": {"field": "y", "type": "quantitative", "title": "°C"}}
    },
    {
      "data": {"name": "yel"},
      "transform": [{"filter": "datum.t >= 18.105"}],
      "mark": {"type": "line", "color": "#ffff00", "strokeWidth": 1.5, "strokeDash": [4, 3]},
      "encoding": {"y": {"field": "y", "type": "quantitative", "title": "°C"}}
    },
    {
      "data": {"name": "mark"},
      "mark": {"type": "rule", "color": "#00e8f0", "strokeWidth": 2, "strokeDash": [10, 5]},
      "encoding": {}
    },
    {
      "data": {"name": "mark"},
      "mark": {"type": "text", "align": "right", "baseline": "bottom", "dx": 6, "dy": -1, "font": "Liberation Sans", "fontSize": 11, "fontWeight": "bold", "color": "#c8c8c8"},
      "encoding": {
        "y": {"field": "v", "type": "quantitative", "title": "°C"},
        "text": {"field": "label"}
      }
    }
  ]
}
